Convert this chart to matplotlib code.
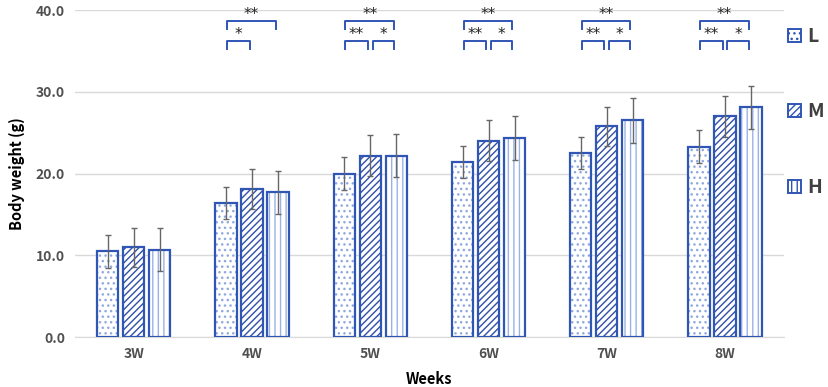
import matplotlib
matplotlib.use("Agg")
import matplotlib.pyplot as plt
import numpy as np
from matplotlib.patches import Patch

plt.rcParams["font.family"] = ["Noto Sans CJK JP", "DejaVu Sans"]

weeks = ["3W", "4W", "5W", "6W", "7W", "8W"]
groups = ["L", "M", "H"]
mean_L = [10.5, 16.4, 20.0, 21.4, 22.5, 23.3]
mean_M = [11.0, 18.1, 22.2, 24.0, 25.8, 27.0]
mean_H = [10.7, 17.7, 22.2, 24.3, 26.5, 28.1]
err_L = [2.0, 1.9, 2.0, 2.0, 2.0, 2.0]
err_M = [2.4, 2.4, 2.5, 2.5, 2.4, 2.5]
err_H = [2.6, 2.6, 2.6, 2.7, 2.7, 2.6]

# significance: (week index, from group, to group, label, level)
sig_marks = [
    (1, 0, 2, "**", 1), (1, 0, 1, "*", 0),
    (2, 0, 2, "**", 1), (2, 0, 1, "**", 0), (2, 1, 2, "*", 0),
    (3, 0, 2, "**", 1), (3, 0, 1, "**", 0), (3, 1, 2, "*", 0),
    (4, 0, 2, "**", 1), (4, 0, 1, "**", 0), (4, 1, 2, "*", 0),
    (5, 0, 2, "**", 1), (5, 0, 1, "**", 0), (5, 1, 2, "*", 0),
]

edge = "#2F55B5"
hatch_styles = [("...", "#8FA8E0"), ("/////", "#2F4FA8"), ("|||", "#9AB2E6")]

fig = plt.figure(figsize=(8.29, 3.87), dpi=100)
ax = fig.add_axes([0.09, 0.129, 0.856, 0.845])

x = np.arange(len(weeks))
step = 0.22
width = 0.18
means = [mean_L, mean_M, mean_H]
errs = [err_L, err_M, err_H]
handles = []
for i, (m, e) in enumerate(zip(means, errs)):
    pos = x + (i - 1) * step
    hatch, hcol = hatch_styles[i]
    ax.bar(pos, m, width, color="white", edgecolor=hcol, hatch=hatch, linewidth=0, zorder=2)
    ax.bar(pos, m, width, fill=False, edgecolor=edge, linewidth=1.6, zorder=3)
    ax.errorbar(pos, m, yerr=e, fmt="none", ecolor="#666666", elinewidth=1,
                capsize=2.5, capthick=1, zorder=4)
    handles.append(Patch(facecolor="white", edgecolor=edge, hatch=hatch, linewidth=1.4,
                         label=groups[i]))

for wi, a, b, lab, lvl in sig_marks:
    x0 = x[wi] + (a - 1) * step + 0.01
    x1 = x[wi] + (b - 1) * step - 0.02
    if b - a == 1 and a == 1:
        x0 += 0.01
    y = 36.2 if lvl == 0 else 38.7
    ax.plot([x0, x0, x1, x1], [y - 1.0, y, y, y - 1.0], color=edge, lw=1.4,
            clip_on=False, zorder=5)
    ax.text((x0 + x1) / 2, y - 0.1, lab, ha="center", va="bottom", fontsize=11,
            color="#222222", family="DejaVu Sans")

ax.set_xlim(-0.5, 5.5)
ax.set_ylim(0, 40)
ax.set_yticks(np.arange(0, 41, 10))
ax.set_yticklabels([f"{v:.1f}" for v in np.arange(0, 41, 10)])
ax.set_xticks(x)
ax.set_xticklabels(weeks)
ax.yaxis.grid(True, color="#d9d9d9", lw=1)
ax.set_axisbelow(True)
for s in ["top", "right", "left"]:
    ax.spines[s].set_visible(False)
ax.spines["bottom"].set_color("#d9d9d9")
ax.tick_params(length=0, labelsize=10, labelcolor="#505050", pad=7)
for t in ax.get_xticklabels() + ax.get_yticklabels():
    t.set_fontweight("bold")
ax.set_xlabel("Weeks", fontsize=10.5, fontweight="bold", labelpad=7)
ax.set_ylabel("Body weight (g)", fontsize=10.5, fontweight="bold", labelpad=8)

leg = fig.legend(handles=handles, loc="upper left", bbox_to_anchor=(0.951, 0.93),
                 frameon=False, fontsize=14, labelspacing=2.9, handlelength=0.65,
                 handleheight=0.65, handletextpad=0.3, borderpad=0, borderaxespad=0)
for t in leg.get_texts():
    t.set_color("#404040")
    t.set_fontweight("bold")

fig.savefig("out.png", dpi=100)
